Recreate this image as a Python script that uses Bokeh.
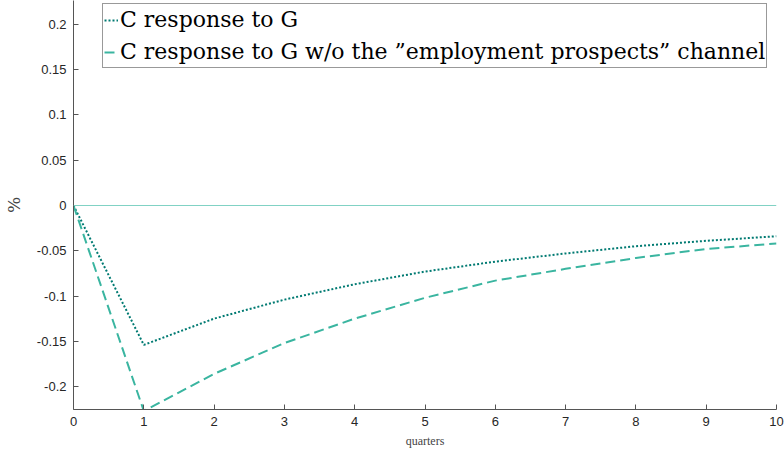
from bokeh.plotting import figure
from bokeh.models import Range1d, FixedTicker, CustomJSTickFormatter, Legend, LegendItem, Span
from bokeh.embed import file_html
from bokeh.resources import INLINE

quarters = [0, 1, 2, 3, 4, 5, 6, 7, 8, 9, 10]
c_resp = [0, -0.154, -0.125, -0.104, -0.087, -0.073, -0.062, -0.053, -0.045, -0.039, -0.034]
c_resp_wo = [0, -0.227, -0.186, -0.152, -0.125, -0.102, -0.083, -0.070, -0.058, -0.048, -0.042]
x_ticks = [0, 1, 2, 3, 4, 5, 6, 7, 8, 9, 10]
y_ticks = [-0.2, -0.15, -0.1, -0.05, 0, 0.05, 0.1, 0.15, 0.2]
labels = ["C response to G", "C response to G w/o the \u201demployment prospects\u201d channel"]

p = figure(width=784, height=456, output_backend="svg", toolbar_location=None,
           x_range=Range1d(0, 10), y_range=Range1d(-0.2254, 0.2265),
           min_border_left=72, min_border_right=8, min_border_top=0, min_border_bottom=47)
p.outline_line_color = None
p.xgrid.visible = False
p.ygrid.visible = False

zero = Span(location=0, dimension="width", line_color="#80d2c4", line_width=1)
p.add_layout(zero)

r1 = p.line(quarters, c_resp, line_color="#007a72", line_width=2, line_dash="2 2")
r2 = p.line(quarters, c_resp_wo, line_color="#3ab5a0", line_width=2, line_dash="10 5")

for ax in (p.xaxis[0], p.yaxis[0]):
    ax.major_tick_in = 5
    ax.major_tick_out = 0
    ax.minor_tick_line_color = None
    ax.axis_line_color = "#555555"
    ax.major_tick_line_color = "#555555"
    ax.major_label_text_font = "Arial"
    ax.major_label_text_font_size = "13px"
    ax.major_label_text_color = "#262626"

p.xaxis.ticker = FixedTicker(ticks=x_ticks)
p.yaxis.ticker = FixedTicker(ticks=y_ticks)
p.yaxis.formatter = CustomJSTickFormatter(code="return (Math.round(tick*100)/100).toString();")
p.xaxis.major_label_standoff = 7
p.yaxis.major_label_standoff = 7

p.xaxis.axis_label = "quarters"
p.xaxis.axis_label_text_font = "Liberation Serif"
p.xaxis.axis_label_text_font_style = "normal"
p.xaxis.axis_label_text_font_size = "12px"
p.xaxis.axis_label_standoff = 5
p.yaxis.axis_label = "%"
p.yaxis.axis_label_text_font = "DejaVu Serif"
p.yaxis.axis_label_text_font_style = "normal"
p.yaxis.axis_label_text_font_size = "17px"
p.yaxis.axis_label_standoff = 10

legend = Legend(items=[LegendItem(label=labels[0], renderers=[r1]),
                       LegendItem(label=labels[1], renderers=[r2])],
                location=(29, 341))
legend.label_text_font = "DejaVu Serif"
legend.label_text_font_size = "22px"
legend.label_text_color = "#000000"
legend.glyph_width = 14
legend.label_standoff = 2
legend.padding = 1
legend.spacing = 3
legend.margin = 0
legend.label_height = 29
legend.border_line_color = "#333333"
legend.border_line_width = 1
legend.background_fill_alpha = 1
p.add_layout(legend)

open("out.html", "w").write(file_html(p, INLINE))
